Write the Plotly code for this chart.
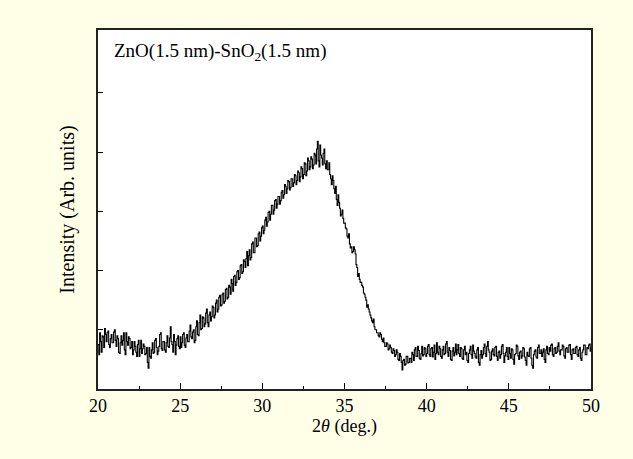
import plotly.graph_objects as go

two_theta_start = 20.0
two_theta_step = 0.05
intensity = [
    0.75,0.58,0.95,0.80,0.62,0.90,0.88,0.70,1.02,0.92,0.80,0.95,0.98,0.75,0.70,0.85,0.92,0.78,0.78,0.96,
    1.00,0.82,0.72,0.90,0.85,0.62,0.60,0.78,0.90,0.74,0.82,0.95,0.66,0.58,0.95,0.80,0.74,0.88,0.85,0.68,
    0.70,0.80,0.58,0.66,0.80,0.72,0.62,0.55,0.75,0.82,0.55,0.68,0.82,0.60,0.68,0.76,0.72,0.58,0.60,0.70,
    0.45,0.35,0.70,0.55,0.52,0.66,0.78,0.60,0.62,0.82,0.85,0.70,0.58,0.64,0.72,0.92,0.95,0.68,0.65,0.80,
    0.80,0.66,0.62,0.78,0.90,0.72,0.70,0.86,1.05,0.80,0.75,0.62,0.92,0.80,0.58,0.74,0.85,0.90,0.72,0.68,
    0.88,0.70,0.78,0.92,0.95,0.74,0.70,0.86,0.92,0.80,0.80,0.98,1.08,0.88,0.85,0.96,1.00,0.78,0.82,1.05,
    1.15,0.92,0.90,1.12,1.25,1.00,1.02,1.22,1.20,1.05,1.10,1.28,1.35,1.12,1.05,1.25,1.30,1.15,1.22,1.40,
    1.38,1.20,1.25,1.45,1.50,1.30,1.35,1.55,1.58,1.40,1.42,1.60,1.62,1.45,1.48,1.68,1.70,1.52,1.55,1.75,
    1.72,1.60,1.85,1.78,1.65,1.90,1.92,1.75,1.80,1.98,2.00,1.85,1.88,2.08,2.10,1.95,1.98,2.18,2.15,2.05,
    2.20,2.32,2.08,2.25,2.35,2.18,2.22,2.45,2.48,2.30,2.30,2.55,2.55,2.40,2.42,2.62,2.65,2.50,2.58,2.72,
    2.75,2.62,2.68,2.85,2.90,2.75,2.82,2.98,3.00,2.85,2.95,3.10,3.10,2.95,3.02,3.18,3.20,3.05,3.12,3.25,
    3.25,3.12,3.18,3.32,3.35,3.22,3.28,3.45,3.42,3.30,3.38,3.52,3.50,3.36,3.40,3.55,3.55,3.42,3.48,3.62,
    3.60,3.45,3.52,3.68,3.65,3.50,3.58,3.75,3.72,3.55,3.62,3.82,3.80,3.60,3.68,3.90,3.85,3.70,3.75,3.92,
    3.88,3.72,3.78,3.98,3.95,3.80,4.05,4.18,3.85,3.75,4.12,3.95,3.90,3.78,3.98,4.05,3.80,3.72,3.85,3.70,
    3.70,3.82,3.62,3.55,3.45,3.60,3.52,3.38,3.30,3.42,3.20,3.10,3.28,3.15,3.05,2.92,2.95,3.02,2.88,2.80,
    2.80,2.72,2.70,2.58,2.55,2.62,2.45,2.38,2.40,2.30,2.32,2.40,2.35,2.28,2.10,2.05,1.90,1.95,1.85,1.80,
    1.80,1.75,1.72,1.62,1.60,1.55,1.50,1.38,1.42,1.35,1.30,1.25,1.20,1.15,1.12,1.18,1.05,1.00,1.00,0.95,
    0.95,0.90,0.88,0.95,0.92,0.84,0.80,0.86,0.78,0.72,0.72,0.78,0.76,0.66,0.68,0.74,0.70,0.62,0.60,0.68,
    0.65,0.55,0.58,0.66,0.62,0.50,0.48,0.60,0.55,0.45,0.32,0.48,0.50,0.40,0.42,0.55,0.55,0.44,0.45,0.52,
    0.52,0.45,0.62,0.58,0.48,0.66,0.70,0.55,0.55,0.72,0.65,0.52,0.50,0.60,0.72,0.56,0.58,0.70,0.68,0.55,
    0.60,0.72,0.75,0.58,0.55,0.68,0.70,0.54,0.62,0.74,0.50,0.60,0.78,0.62,0.58,0.72,0.68,0.55,0.52,0.66,
    0.72,0.58,0.60,0.76,0.80,0.62,0.55,0.70,0.65,0.50,0.48,0.64,0.70,0.56,0.62,0.76,0.58,0.66,0.75,0.60,
    0.55,0.70,0.68,0.52,0.50,0.66,0.72,0.58,0.62,0.48,0.45,0.60,0.66,0.72,0.58,0.52,0.74,0.64,0.60,0.54,
    0.52,0.66,0.70,0.45,0.40,0.58,0.65,0.52,0.58,0.70,0.76,0.60,0.55,0.72,0.80,0.66,0.62,0.48,0.50,0.64,
    0.68,0.58,0.56,0.70,0.72,0.55,0.48,0.62,0.64,0.52,0.58,0.72,0.75,0.60,0.45,0.56,0.62,0.70,0.55,0.50,
    0.70,0.60,0.52,0.68,0.66,0.50,0.42,0.58,0.60,0.74,0.72,0.56,0.50,0.62,0.64,0.52,0.56,0.70,0.68,0.54,
    0.48,0.40,0.62,0.56,0.55,0.68,0.70,0.52,0.40,0.35,0.58,0.64,0.66,0.54,0.52,0.70,0.74,0.60,0.60,0.66,
    0.55,0.62,0.68,0.50,0.45,0.66,0.72,0.60,0.58,0.70,0.64,0.74,0.76,0.58,0.55,0.68,0.70,0.60,0.62,0.72,
    0.78,0.64,0.58,0.66,0.66,0.74,0.72,0.56,0.52,0.68,0.70,0.62,0.62,0.74,0.75,0.58,0.50,0.66,0.68,0.60,
    0.60,0.70,0.72,0.58,0.55,0.66,0.70,0.52,0.48,0.62,0.66,0.74,0.74,0.58,0.58,0.70,0.68,0.74,0.76,0.64,
    0.70,
]
two_theta = [round(two_theta_start + i * two_theta_step, 3) for i in range(len(intensity))]

x_tick_vals = [20, 25, 30, 35, 40, 45, 50]
x_tick_text = ["20", "25", "30", "35", "40", "45", "50"]
y_tick_vals = [1, 2, 3, 4, 5]
label_text = "ZnO(1.5 nm)-SnO<sub>2</sub>(1.5 nm)"
x_title = "2<i>θ</i> (deg.)"
y_title = "Intensity (Arb. units)"

FONT = "Liberation Serif, Times New Roman, serif"
BG = "#FFFEE6"

fig = go.Figure()
fig.add_trace(go.Scatter(
    x=two_theta, y=intensity, mode="lines",
    line=dict(color="black", width=1.1, shape="hv"),
    showlegend=False, hoverinfo="skip",
))

fig.update_layout(
    width=633, height=459,
    paper_bgcolor=BG, plot_bgcolor="white",
    margin=dict(l=98, r=42, t=30, b=70),
    font=dict(family=FONT, size=18, color="black"),
    xaxis=dict(
        range=[20, 50], tickvals=x_tick_vals, ticktext=x_tick_text,
        ticks="inside", ticklen=6, tickwidth=1, tickcolor="black",
        minor=dict(ticks="inside", ticklen=3, dtick=2.5, tickcolor="black"),
        showline=True, linecolor="#222", linewidth=1.5, mirror=True,
        showgrid=False, zeroline=False,
        tickfont=dict(family=FONT, size=18),
        title=dict(text=x_title, font=dict(family=FONT, size=18), standoff=0),
    ),
    yaxis=dict(
        range=[0, 6.06], tickvals=y_tick_vals, showticklabels=False,
        ticks="inside", ticklen=5, tickwidth=1, tickcolor="black",
        showline=True, linecolor="#222", linewidth=1.5, mirror=True,
        showgrid=False, zeroline=False,
        title=dict(text=y_title, font=dict(family=FONT, size=20), standoff=16),
    ),
    annotations=[dict(
        text=label_text, x=0.028, y=0.94, xref="paper", yref="paper",
        xanchor="left", yanchor="middle", showarrow=False,
        font=dict(family=FONT, size=19, color="black"),
    )],
)

fig.write_html(
    "out.html",
    config={"displayModeBar": False},
    post_script="document.body.style.margin='0';document.body.style.background='" + BG + "';",
)
